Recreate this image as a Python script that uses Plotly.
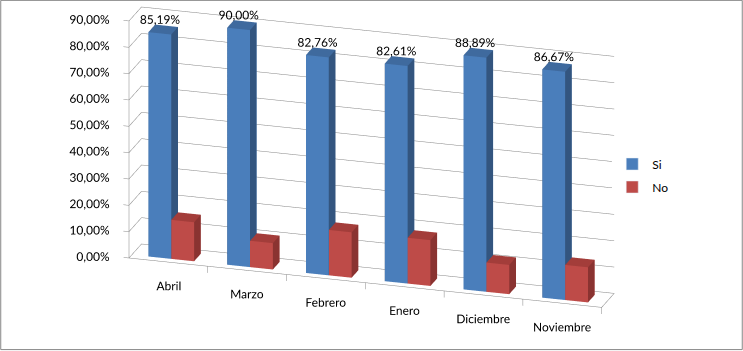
import plotly.graph_objects as go

categories = ["Abril", "Marzo", "Febrero", "Enero", "Diciembre", "Noviembre"]
si_values = [85.19, 90.00, 82.76, 82.61, 88.89, 86.67]
no_values = [14.81, 10.00, 17.24, 17.39, 11.11, 13.33]
tick_values = [0, 10, 20, 30, 40, 50, 60, 70, 80, 90]
tick_labels = ["0,00%", "10,00%", "20,00%", "30,00%", "40,00%", "50,00%",
               "60,00%", "70,00%", "80,00%", "90,00%"]

FONT = "Lato"
GRID = "#868686"
N = len(categories)
BAR_W = 0.29
DEPTH = 0.52
BAR_D0, BAR_D1 = 0.12, 0.40
XR = [-1.4, 6.3]
YR = [-0.05, 0.55]
ZR = [-14, 96]
K = 0.479
Z_PER_X = 3.0 / 90.0 / 0.98
EYE_R = 2.0


def boxes(values, offset, colors):
    xs, ys, zs, I, J, Kk, fc = [], [], [], [], [], [], []
    front, side, top = colors
    for ci, v in enumerate(values):
        x0 = ci + offset
        x1 = x0 + BAR_W
        b = len(xs)
        for (x, y, z) in [(x0, BAR_D0, 0), (x1, BAR_D0, 0), (x1, BAR_D1, 0), (x0, BAR_D1, 0),
                          (x0, BAR_D0, v), (x1, BAR_D0, v), (x1, BAR_D1, v), (x0, BAR_D1, v)]:
            xs.append(x); ys.append(y); zs.append(z)
        faces = [
            ((0, 1, 5), front), ((0, 5, 4), front),
            ((1, 2, 6), side), ((1, 6, 5), side),
            ((4, 5, 6), top), ((4, 6, 7), top),
            ((3, 0, 4), side), ((3, 4, 7), side),
            ((2, 3, 7), front), ((2, 7, 6), front),
            ((0, 1, 2), front), ((0, 2, 3), front),
        ]
        for (a, bb, c), col in faces:
            I.append(b + a); J.append(b + bb); Kk.append(b + c); fc.append(col)
    return xs, ys, zs, I, J, Kk, fc


fig = go.Figure()

gx, gy, gz = [], [], []
for t in tick_values:
    gx += [0, 0, N, None]; gy += [0, DEPTH, DEPTH, None]; gz += [t, t, t, None]
    gx += [0, -0.07, None]; gy += [0, 0, None]; gz += [t, t, None]
gx += [0, 0, None]; gy += [0, 0, None]; gz += [0, tick_values[-1], None]
gx += [0, N, N, None]; gy += [0, 0, DEPTH, None]; gz += [0, 0, 0, None]
for i in range(1, N + 1):
    gx += [i, i, None]; gy += [0, 0, None]; gz += [0, -2.5, None]
fig.add_trace(go.Scatter3d(x=gx, y=gy, z=gz, mode="lines",
                           line=dict(color=GRID, width=1),
                           hoverinfo="skip", showlegend=False))

light = dict(ambient=1, diffuse=0, specular=0, fresnel=0, roughness=1)
for vals, off, cols, name in [
    (si_values, 0.21, ("#4A7EBB", "#33557F", "#3F6A9E"), "Si"),
    (no_values, 0.50, ("#BE4B48", "#8A3331", "#A33D3A"), "No"),
]:
    xs, ys, zs, I, J, Kk, fc = boxes(vals, off, cols)
    fig.add_trace(go.Mesh3d(x=xs, y=ys, z=zs, i=I, j=J, k=Kk, facecolor=fc,
                            flatshading=True, lighting=light, hoverinfo="skip",
                            showlegend=False, name=name))

fig.add_trace(go.Scatter3d(
    x=[i + 0.21 + BAR_W / 2 for i in range(N)],
    y=[BAR_D0] * N, z=[v + 5 for v in si_values],
    mode="text", text=[f"{v:.2f}%".replace(".", ",") for v in si_values],
    textposition="middle center",
    textfont=dict(family=FONT, size=12, color="#000000"),
    hoverinfo="skip", showlegend=False))

fig.add_trace(go.Scatter3d(
    x=[i + 0.5 for i in range(N)], y=[0.0] * N,
    z=[-9] * N, mode="text", text=categories,
    textposition="middle center",
    textfont=dict(family=FONT, size=12, color="#000000"),
    hoverinfo="skip", showlegend=False))

fig.add_trace(go.Scatter3d(
    x=[-0.1] * len(tick_values), y=[0.0] * len(tick_values), z=tick_values,
    mode="text", text=tick_labels, textposition="middle left",
    textfont=dict(family=FONT, size=12, color="#000000"),
    hoverinfo="skip", showlegend=False))

for name, col in [("Si", "#4A7EBB"), ("No", "#BE4B48")]:
    fig.add_trace(go.Bar(x=[None], y=[None], name=name, marker_color=col,
                         legendgroup=name))

hid = dict(visible=False, showspikes=False)
fig.update_layout(
    width=743, height=351, margin=dict(l=0, r=0, t=0, b=0),
    paper_bgcolor="white", plot_bgcolor="white",
    font=dict(family=FONT, size=12, color="#000000"),
    xaxis=dict(visible=False), yaxis=dict(visible=False),
    scene=dict(
        domain=dict(x=[0.007, 0.877], y=[0.0, 1.0]),
        xaxis=dict(range=XR, **hid),
        yaxis=dict(range=YR, **hid),
        zaxis=dict(range=ZR, **hid),
        aspectmode="manual",
        aspectratio=dict(x=(XR[1] - XR[0]) * K * 0.98, y=(YR[1] - YR[0]) * K * 0.98,
                         z=(ZR[1] - ZR[0]) * Z_PER_X * K * 0.98),
        camera=dict(eye=dict(x=0.278 * EYE_R, y=-0.909 * EYE_R, z=0.309 * EYE_R),
                    up=dict(x=0, y=0, z=1), center=dict(x=0, y=0, z=-0.073),
                    projection=dict(type="orthographic")),
    ),
    legend=dict(x=0.824, y=0.5, xanchor="left", yanchor="middle", itemwidth=30,
                font=dict(family=FONT, size=12), tracegroupgap=4),
    shapes=[dict(type="rect", xref="paper", yref="paper", x0=0.001, y0=0.004,
                 x1=0.999, y1=0.999, line=dict(color=GRID, width=1))],
)
fig.write_html("out.html")
